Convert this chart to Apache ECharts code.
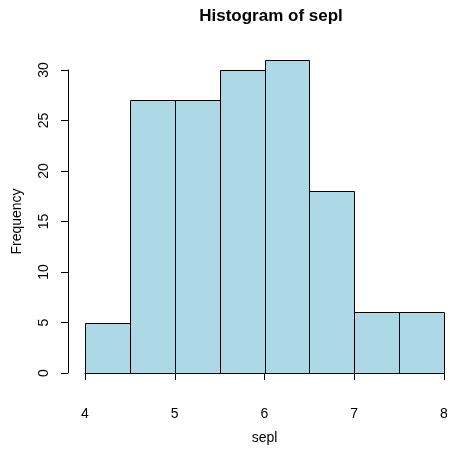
<!DOCTYPE html>
<html>
<head>
<meta charset="utf-8">
<script src="https://cdn.jsdelivr.net/npm/echarts@6/dist/echarts.min.js"></script>
<style>
  html, body { margin: 0; padding: 0; background: #fff; }
  #chart { width: 450px; height: 451px; }
</style>
</head>
<body>
<div id="chart"></div>
<script>
// Histogram bins (left/right edges) and their counts
const binStart = [4.0, 4.5, 5.0, 5.5, 6.0, 6.5, 7.0, 7.5];
const binEnd   = [4.5, 5.0, 5.5, 6.0, 6.5, 7.0, 7.5, 8.0];
const counts   = [5, 27, 27, 30, 31, 18, 6, 6];

const xTicks = [4, 5, 6, 7, 8];
const yTicks = [0, 5, 10, 15, 20, 25, 30];

const FONT = '"Liberation Sans", Arial, Helvetica, sans-serif';
const LABEL_SIZE = 14;

const data = binStart.map((s, i) => [s, binEnd[i], counts[i]]);

const chart = echarts.init(document.getElementById('chart'), null, { renderer: 'canvas' });

chart.setOption({
  animation: false,
  backgroundColor: '#ffffff',
  title: {
    text: 'Histogram of sepl',
    left: 266,
    top: 3,
    textAlign: 'center',
    textStyle: { fontFamily: FONT, fontSize: 17, fontWeight: 'bold', color: '#000' }
  },
  grid: {
    left: 85, top: 70, width: 359, height: 303,
    containLabel: false,
    outerBoundsMode: 'none'
  },
  xAxis: {
    type: 'value',
    min: xTicks[0],
    max: xTicks[xTicks.length - 1],
    interval: 1,
    offset: 15,
    name: 'sepl',
    nameLocation: 'middle',
    nameGap: 43,
    nameTextStyle: { fontFamily: FONT, fontSize: LABEL_SIZE, color: '#000' },
    axisLine: { show: true, lineStyle: { color: '#000', width: 1 } },
    axisTick: { show: true, length: 7, lineStyle: { color: '#000' } },
    axisLabel: { fontFamily: FONT, fontSize: LABEL_SIZE, color: '#000', margin: 19 },
    splitLine: { show: false }
  },
  yAxis: {
    type: 'value',
    min: yTicks[0],
    max: yTicks[yTicks.length - 1],
    interval: 5,
    offset: 17,
    name: 'Frequency',
    nameLocation: 'middle',
    nameGap: 44,
    nameTextStyle: { fontFamily: FONT, fontSize: LABEL_SIZE, color: '#000' },
    axisLine: { show: true, lineStyle: { color: '#000', width: 1 } },
    axisTick: { show: true, length: 7, lineStyle: { color: '#000' } },
    axisLabel: { fontFamily: FONT, fontSize: LABEL_SIZE, color: '#000', rotate: 90, margin: 17 },
    splitLine: { show: false }
  },
  series: [{
    type: 'custom',
    clip: false,
    data: data,
    encode: { x: [0, 1], y: 2 },
    renderItem: function (params, api) {
      const p0 = api.coord([api.value(0), api.value(2)]);
      const p1 = api.coord([api.value(1), 0]);
      return {
        type: 'rect',
        shape: {
          x: Math.round(p0[0]) + 0.5,
          y: Math.round(p0[1]) + 0.5,
          width: Math.round(p1[0]) - Math.round(p0[0]),
          height: Math.round(p1[1]) - Math.round(p0[1])
        },
        style: { fill: '#ADD8E6', stroke: '#000', lineWidth: 1 }
      };
    }
  }]
});
</script>
</body>
</html>
